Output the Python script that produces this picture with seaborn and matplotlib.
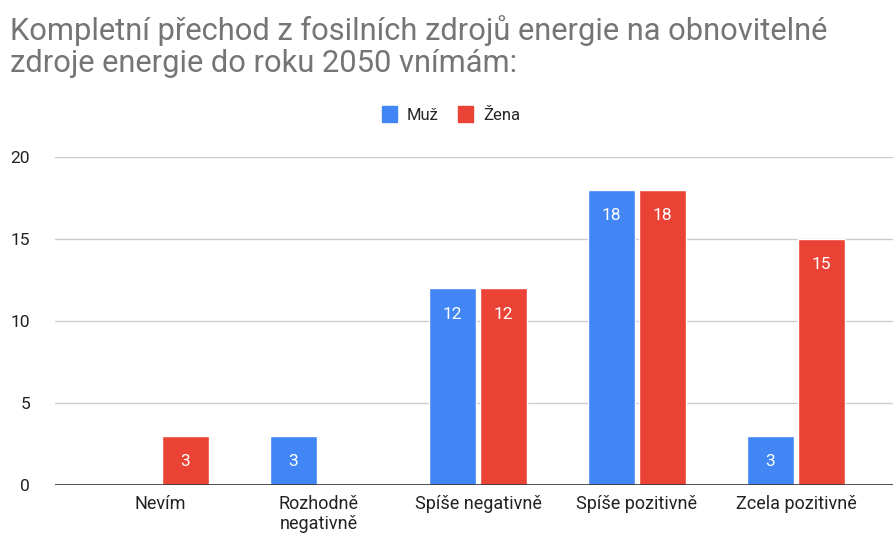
import pandas as pd
import matplotlib.pyplot as plt
import seaborn as sns

categories = ["Nevím", "Rozhodně\nnegativně", "Spíše negativně", "Spíše pozitivně", "Zcela pozitivně"]
muz = [0, 3, 12, 18, 3]
zena = [3, 0, 12, 18, 15]
series = ["Muž", "Žena"]
yticks = [0, 5, 10, 15, 20]

df = pd.DataFrame({
    "kategorie": categories * 2,
    "pohlavi": [series[0]] * len(categories) + [series[1]] * len(categories),
    "pocet": muz + zena,
})

sns.set_style("white")
plt.rcParams['font.family'] = ['Roboto', 'DejaVu Sans']

fig = plt.figure(figsize=(8.93, 5.35), dpi=100)
ax = fig.add_axes([0.0616, 0.0935, 0.9384, 0.613])

palette = {"Muž": "#4285F4", "Žena": "#EA4335"}
sns.barplot(data=df, x="kategorie", y="pocet", hue="pohlavi", order=categories,
            hue_order=series, palette=palette, width=0.64, gap=0.07,
            saturation=1, ax=ax, legend=False)

for cont in ax.containers:
    labels = [f"{int(b.get_height())}" if b.get_height() > 0 else "" for b in cont]
    ax.bar_label(cont, labels=labels, padding=-24, color="white", fontsize=12.5)

ax.set_ylim(0, 20)
ax.set_xlim(-0.66, 4.61)
ax.set_yticks(yticks)
ax.yaxis.grid(True, color="#cccccc", linewidth=1)
ax.set_axisbelow(True)
ax.axhline(0, color="#333333", linewidth=1.2)
for s in ax.spines.values():
    s.set_visible(False)
ax.tick_params(axis="both", length=0, colors="#222222")
ax.tick_params(axis="y", pad=18, labelsize=12.5)
ax.tick_params(axis="x", pad=7, labelsize=13)
for t in ax.get_xticklabels():
    t.set_linespacing(1.2)
ax.set_xlabel("")
ax.set_ylabel("")

fig.text(0.011, 0.972, "Kompletní přechod z fosilních zdrojů energie na obnovitelné\nzdroje energie do roku 2050 vnímám:",
         fontsize=22.2, color="#757575", ha="left", va="top", linespacing=1.12)

handles = [plt.Rectangle((0, 0), 1, 1, color=palette[s]) for s in series]
fig.legend(handles, series, loc="center", bbox_to_anchor=(0.505, 0.786), ncol=2,
           frameon=False, fontsize=12, handlelength=0.9, handleheight=1.1,
           handletextpad=0.6, columnspacing=1.2)

plt.savefig("out.png", dpi=100)
